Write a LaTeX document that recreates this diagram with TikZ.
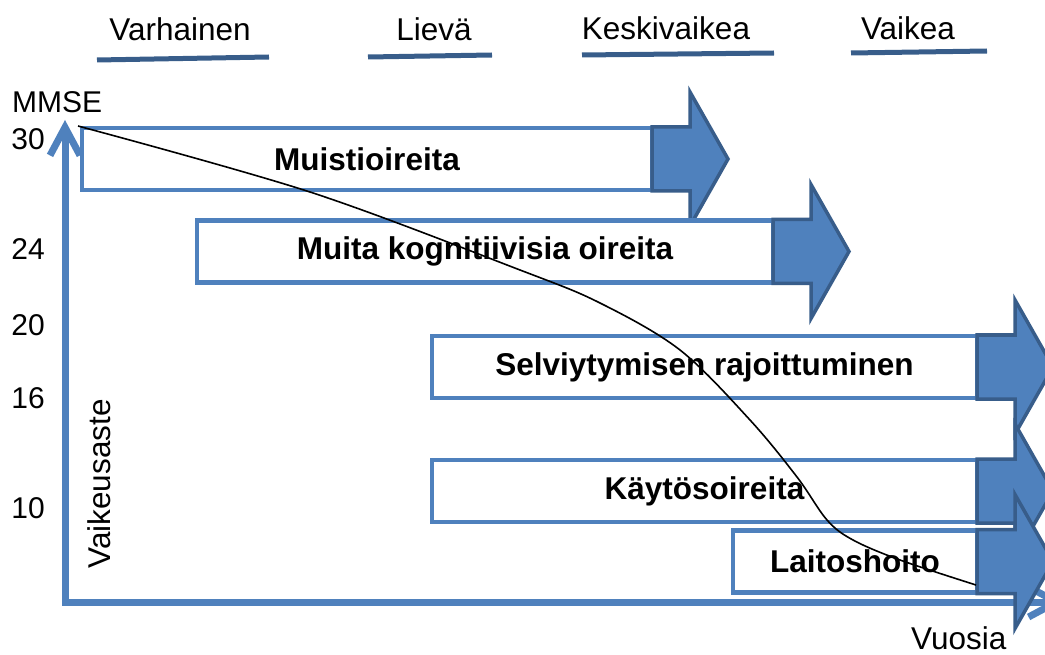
\documentclass[tikz,border=0pt]{standalone}
\usepackage{fontspec}
\setmainfont{Liberation Sans}
\usetikzlibrary{arrows.meta}

\definecolor{barblue}{HTML}{4F81BD}
\definecolor{edgeblue}{HTML}{385D8A}
\newcommand{\bigtxt}{\fontsize{31.5}{36}\selectfont}
\newcommand{\numtxt}{\fontsize{30}{36}\selectfont}

\tikzset{
	txt/.style={inner sep=0pt, font=\bigtxt},
	num/.style={inner sep=0pt, font=\numtxt, anchor=base east},
	bar/.style={draw=barblue, line width=4.5pt, fill=white, anchor=west, minimum height=62pt, inner sep=0pt, outer sep=0pt, font=\bigtxt\bfseries},
	stage/.style={line width=5pt, edgeblue},
	axis/.style={line width=7pt, barblue, line cap=round, {Straight Barb[length=28pt,width=30pt]}-{Straight Barb[length=28pt,width=30pt]}},
	pics/headarrow/.style={code={
		\filldraw[fill=barblue, draw=edgeblue, line width=3.5pt] (0,-32) -- (38,-32) -- (38,-67) -- (76,0) -- (38,67) -- (38,32) -- (0,32) -- cycle;
	}}
}

\begin{document}
\begin{tikzpicture}[x=1pt,y=-1pt]
			
			\useasboundingbox (0,0) rectangle (1045,655);
			
			\begin{scope}
				\node[txt, anchor=base] (early) at (180,41) {Varhainen};
				\node[txt, anchor=base] (mild) at (434,41) {Lievä};
				\node[txt, anchor=base] (moderate) at (666,40) {Keskivaikea};
				\node[txt, anchor=base] (severe) at (908,40) {Vaikea};
				\draw[stage] (97,60) -- (269,57);
				\draw[stage] (368,57) -- (492,55);
				\draw[stage] (582,55) -- (774,53);
				\draw[stage] (851,53) -- (987,51);
			\end{scope}
			
			\coordinate (origin) at (65,602);
			\coordinate (ytop) at (65,120);
			\coordinate (xend) at (1064,602);
			\draw[axis] (ytop) -- (origin) -- (xend);
			
			\node[txt, font=\numtxt, anchor=base west] (mmse) at (12,113) {MMSE};
			\node[num] (n30) at (45,150) {30};
			\node[num] (n24) at (45,260) {24};
			\node[num] (n20) at (45,335) {20};
			\node[num] (n16) at (45,408) {16};
			\node[num] (n10) at (45,518) {10};
			\node[txt, rotate=90, anchor=base] (sev) at (110,484) {Vaikeusaste};
			\node[txt, anchor=base west] (years) at (911,649) {Vuosia};
			
			\node[bar, minimum width=570pt] (mem) at (82,159) {Muistioireita};
			\pic at (mem.east) {headarrow};
			\node[bar, minimum width=576pt] (cog) at (197,251.5) {Muita kognitiivisia oireita};
			\pic at (cog.east) {headarrow};
			\node[bar, minimum width=545pt] (adl) at (432,367) {Selviytymisen rajoittuminen};
			\pic at (adl.east) {headarrow};
			\node[bar, minimum width=545pt] (bpsd) at (432,491) {Käytösoireita};
			\pic at (bpsd.east) {headarrow};
			\node[bar, minimum width=244pt] (care) at (733,561.5) {Laitoshoito};
			\pic at (care.east) {headarrow};
			
			\draw[line width=1.6pt] plot[smooth, tension=0.55] coordinates {(78,126) (310,192) (520,270) (600,303) (680,350) (750,420) (797,477) (827,520) (853,540) (900,560) (976,585)};
		
		\end{tikzpicture}
\end{document}
